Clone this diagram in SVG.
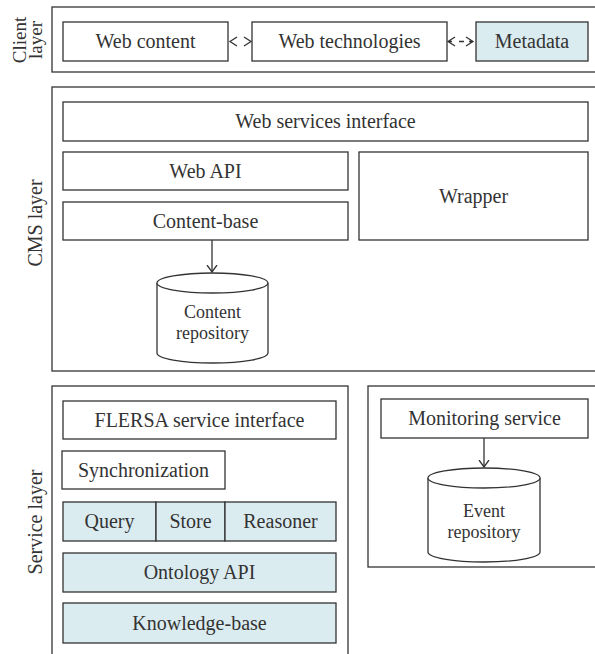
<svg xmlns="http://www.w3.org/2000/svg" width="595" height="654" viewBox="0 0 595 654">
<defs>
<marker id="chev" viewBox="0 0 8 12" refX="7.5" refY="6" markerWidth="8" markerHeight="12" markerUnits="userSpaceOnUse" orient="auto">
<path d="M0.5,1 L7.5,6 L0.5,11" fill="none" stroke="#333" stroke-width="1.2"/>
</marker>
<style>
rect, path, ellipse, line { stroke: #333; stroke-width: 1.3; }
.w { fill: #fff; }
.b { fill: #dbecf1; }
.frame { fill: none; }
text { font-family: "Liberation Serif", "Times New Roman", serif; font-size: 20px; fill: #333; text-anchor: middle; }
.two { font-size: 19px; }
.cyl { font-size: 18px; }
.conn { fill: none; }
</style>
</defs>
<rect width="595" height="654" fill="#fff" style="stroke:none"/>

<g id="client-layer">
<rect class="frame" x="52" y="7" width="560" height="65"/>
<text class="two" transform="translate(26,40) rotate(-90)">Client</text>
<text class="two" transform="translate(42,40) rotate(-90)">layer</text>
</g>
<g id="web-content"><rect class="w" x="63" y="22" width="165" height="39"/><text x="145.5" y="48">Web content</text></g>
<g id="web-technologies"><rect class="w" x="252" y="22" width="195" height="39"/><text x="349.5" y="48">Web technologies</text></g>
<g id="metadata"><rect class="b" x="476" y="22" width="112" height="39"/><text x="532" y="48">Metadata</text></g>

<g id="cms-layer">
<rect class="frame" x="52" y="87" width="560" height="284"/>
<text transform="translate(42,223) rotate(-90)">CMS layer</text>
</g>
<g id="web-services-interface"><rect class="w" x="63" y="102" width="525" height="39"/><text x="325.5" y="128">Web services interface</text></g>
<g id="web-api"><rect class="w" x="63" y="152" width="285" height="38"/><text x="205.5" y="178">Web API</text></g>
<g id="content-base"><rect class="w" x="63" y="202" width="285" height="38"/><text x="205.5" y="228">Content-base</text></g>
<g id="wrapper"><rect class="w" x="359" y="152" width="229" height="88"/><text x="473.5" y="203">Wrapper</text></g>
<g id="content-repository">
<path class="w" d="M157,283 L157,353 A55.5,10 0 0 0 268,353 L268,283"/>
<ellipse class="w" cx="212.5" cy="283" rx="55.5" ry="10"/>
<text class="cyl" x="212.5" y="318">Content</text>
<text class="cyl" x="212.5" y="339">repository</text>
</g>

<g id="service-layer">
<rect class="frame" x="52" y="386" width="296" height="290"/>
<text transform="translate(42,522) rotate(-90)">Service layer</text>
</g>
<g id="flersa-service-interface"><rect class="w" x="63" y="401" width="273" height="38"/><text x="199.5" y="427">FLERSA service interface</text></g>
<g id="synchronization"><rect class="w" x="62" y="451" width="163" height="38"/><text x="143.5" y="477">Synchronization</text></g>
<g id="query"><rect class="b" x="63" y="502" width="93" height="39"/><text x="109.5" y="528">Query</text></g>
<g id="store"><rect class="b" x="156" y="502" width="69" height="39"/><text x="190.5" y="528">Store</text></g>
<g id="reasoner"><rect class="b" x="225" y="502" width="111" height="39"/><text x="280.5" y="528">Reasoner</text></g>
<g id="ontology-api"><rect class="b" x="63" y="553" width="273" height="39"/><text x="199.5" y="579">Ontology API</text></g>
<g id="knowledge-base"><rect class="b" x="63" y="603" width="273" height="40"/><text x="199.5" y="630">Knowledge-base</text></g>

<g id="monitoring-layer">
<rect class="frame" x="368" y="386" width="240" height="181"/>
</g>
<g id="monitoring-service"><rect class="w" x="381" y="399" width="207" height="39"/><text x="484.5" y="425">Monitoring service</text></g>
<g id="event-repository">
<path class="w" d="M428,478 L428,552 A56,10 0 0 0 540,552 L540,478"/>
<ellipse class="w" cx="484" cy="478" rx="56" ry="10"/>
<text class="cyl" x="484" y="517">Event</text>
<text class="cyl" x="484" y="538">repository</text>
</g>

<g id="connectors">
<path class="conn" d="M237,37 L230,41.5 L237,46 M244,37 L251,41.5 L244,46"/>
<path class="conn" d="M455,37 L448,41.5 L455,46 M448,41.5 L452,41.5 M459,41.5 L464,41.5 M466,37 L473,41.5 L466,46 M469,41.5 L473,41.5"/>
<line class="conn" x1="212" y1="240" x2="212" y2="272" marker-end="url(#chev)"/>
<line class="conn" x1="484" y1="438" x2="484" y2="467" marker-end="url(#chev)"/>
</g>
</svg>
